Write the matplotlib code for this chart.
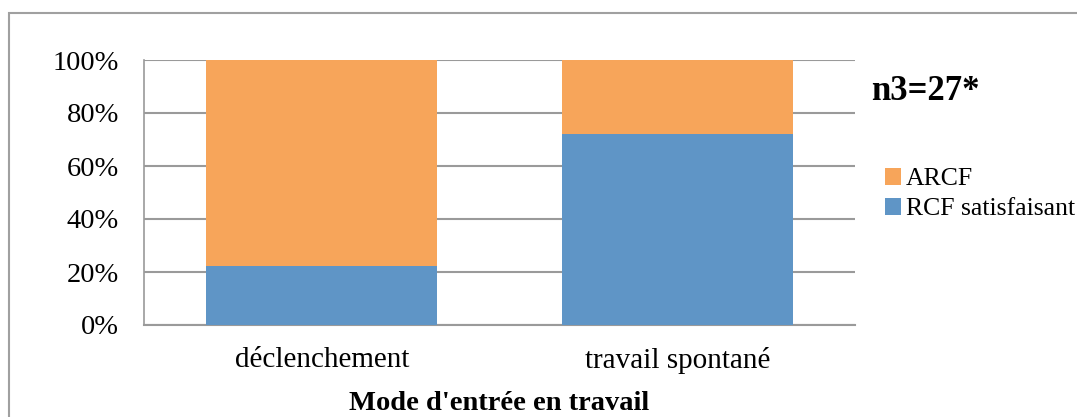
import matplotlib
matplotlib.use("Agg")
import matplotlib.pyplot as plt
from matplotlib.patches import Rectangle

categories = ["déclenchement", "travail spontané"]
rcf_satisfaisant = [22.2, 72.2]
arcf = [77.8, 27.8]
series_labels = ["RCF satisfaisant", "ARCF"]
ytick_labels = ["0%", "20%", "40%", "60%", "80%", "100%"]
xlabel = "Mode d'entrée en travail"
annotation = "n3=27*"

blue = "#5F95C6"
orange = "#F7A55A"
grid_c = "#9A9A9A"

plt.rcParams["font.family"] = ["Liberation Serif", "DejaVu Serif"]

fig = plt.figure(figsize=(10.77, 4.17), dpi=100)
# outer border
fig.patches.append(Rectangle((9/1077, -0.1), 1.2, 1 - 13/417 + 0.1, transform=fig.transFigure,
                             fill=False, edgecolor="#A0A0A0", linewidth=1.5))

ax = fig.add_axes([144/1077, 1 - 325/417, (855-144)/1077, (325-60)/417])
x = list(range(len(categories)))
w = 0.65
ax.bar(x, rcf_satisfaisant, width=w, color=blue, label=series_labels[0], zorder=3)
ax.bar(x, arcf, width=w, bottom=rcf_satisfaisant, color=orange, label=series_labels[1], zorder=3)

ax.set_xlim(-0.5, 1.5)
ax.set_ylim(0, 100)
ax.set_yticks([0, 20, 40, 60, 80, 100])
ax.set_yticklabels(ytick_labels, fontsize=20.5)
ax.set_xticks(x)
ax.set_xticklabels(categories, fontsize=21)
ax.tick_params(axis="x", length=0, pad=16)
ax.tick_params(axis="y", length=0, pad=18)
ax.yaxis.grid(True, color=grid_c, linewidth=1.5, zorder=0)
for s in ["top", "right"]:
    ax.spines[s].set_visible(False)
ax.spines["left"].set_color(grid_c)
ax.spines["left"].set_linewidth(1.2)
ax.spines["bottom"].set_color(grid_c)
ax.spines["bottom"].set_linewidth(1.5)
ax.set_xlabel(xlabel, fontsize=20.5, fontweight="bold", labelpad=12)

handles, labels = ax.get_legend_handles_labels()
leg = fig.legend(handles[::-1], labels[::-1], loc="upper left",
                 bbox_to_anchor=(875/1077, 1 - 158/417), frameon=False,
                 fontsize=18.5, handlelength=0.6, handleheight=0.6,
                 handletextpad=0.2, labelspacing=0.3, borderaxespad=0)
fig.text(871/1077, 1 - 92/417, annotation, fontsize=25, fontweight="bold",
         va="center", ha="left")

fig.savefig("out.png", dpi=100)
